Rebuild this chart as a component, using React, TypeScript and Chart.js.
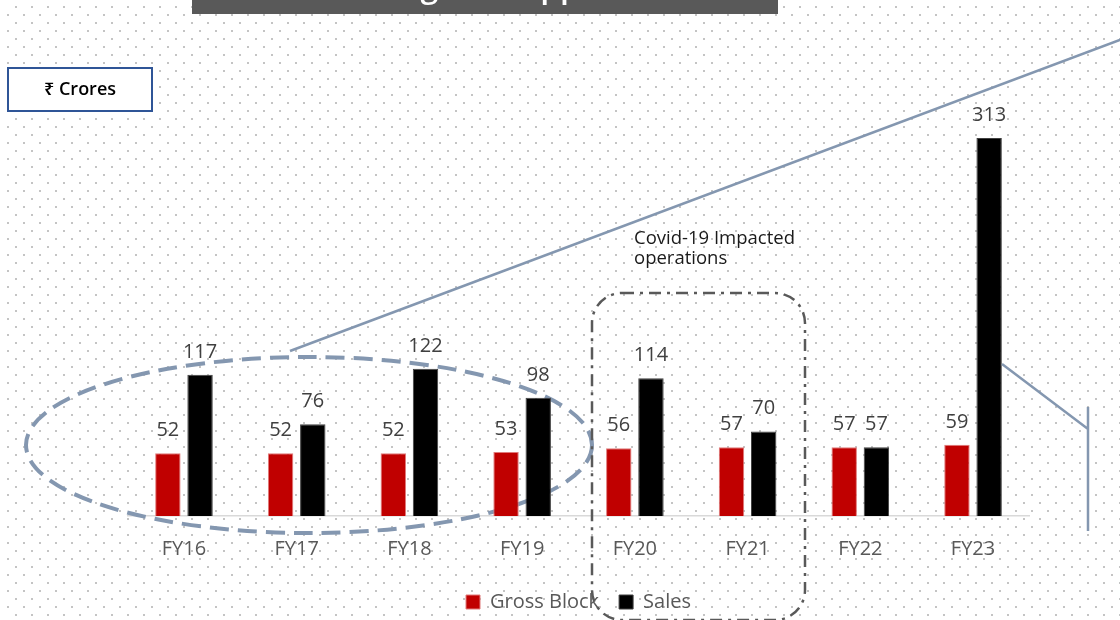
import React, { useEffect, useRef } from "react";
import { Chart, registerables } from "chart.js";

Chart.register(...registerables);

// ---------- data ----------
const categories = ["FY16", "FY17", "FY18", "FY19", "FY20", "FY21", "FY22", "FY23"];
const grossBlock = [52, 52, 52, 53, 56, 57, 57, 59];
const sales = [117, 76, 122, 98, 114, 70, 57, 313];
const seriesNames = ["Gross Block", "Sales"];
const unitLabel = "₹ Crores";
const covidNote = ["Covid-19 Impacted", "operations"];
const titleText = "Huge Untapped Market";

const FONT = '"Open Sans", "Noto Sans", "DejaVu Sans", sans-serif';
const ACCENT = "#8497B0";

function roundRectPath(ctx: CanvasRenderingContext2D, x: number, y: number, w: number, h: number, r: number) {
  ctx.beginPath();
  ctx.moveTo(x + r, y);
  ctx.lineTo(x + w - r, y);
  ctx.arcTo(x + w, y, x + w, y + r, r);
  ctx.lineTo(x + w, y + h - r);
  ctx.arcTo(x + w, y + h, x + w - r, y + h, r);
  ctx.lineTo(x + r, y + h);
  ctx.arcTo(x, y + h, x, y + h - r, r);
  ctx.lineTo(x, y + r);
  ctx.arcTo(x, y, x + r, y, r);
  ctx.closePath();
}

const decorPlugin = {
  id: "decor",
  beforeDraw(chart: any) {
    const ctx: CanvasRenderingContext2D = chart.ctx;
    const W = chart.width;
    const H = chart.height;
    ctx.save();
    ctx.fillStyle = "#ffffff";
    ctx.fillRect(0, 0, W, H);
    // dotted pattern background
    ctx.fillStyle = "#c4c4c4";
    let k = 0;
    for (let y = 6; y < H; y += 8, k++) {
      const x0 = k % 2 === 0 ? 15 : 7;
      for (let x = x0; x < W; x += 16) {
        ctx.fillRect(x, y, 2, 2);
      }
    }
    // top banner (title mostly cut off)
    ctx.fillStyle = "#595959";
    ctx.fillRect(192, 0, 586, 14);
    ctx.save();
    ctx.beginPath();
    ctx.rect(192, 0, 586, 14);
    ctx.clip();
    ctx.fillStyle = "#ffffff";
    ctx.font = `600 32px ${FONT}`;
    ctx.textAlign = "left";
    ctx.textBaseline = "alphabetic";
    ctx.fillText(titleText, 376, -3);
    ctx.restore();
    ctx.restore();
  },
  beforeDatasetsDraw(chart: any) {
    const ctx: CanvasRenderingContext2D = chart.ctx;
    ctx.save();
    // dashed ellipse around FY16-FY19
    ctx.strokeStyle = ACCENT;
    ctx.lineWidth = 4;
    ctx.setLineDash([19, 9]);
    ctx.beginPath();
    ctx.ellipse(309, 445, 283, 88, 0, 0, Math.PI * 2);
    ctx.stroke();
    // long diagonal line
    ctx.setLineDash([]);
    ctx.lineWidth = 2.5;
    ctx.beginPath();
    ctx.moveTo(290, 351);
    ctx.lineTo(1125, 38);
    ctx.stroke();
    ctx.restore();
  },
  afterDatasetsDraw(chart: any) {
    const ctx: CanvasRenderingContext2D = chart.ctx;
    ctx.save();
    ctx.fillStyle = "#404040";
    ctx.font = `20px ${FONT}`;
    ctx.textAlign = "center";
    ctx.textBaseline = "alphabetic";
    chart.data.datasets.forEach((ds: any, i: number) => {
      const meta = chart.getDatasetMeta(i);
      meta.data.forEach((el: any, j: number) => {
        ctx.fillText(String(ds.data[j]), el.x, el.y - 17);
      });
    });
    ctx.restore();
  },
  afterDraw(chart: any) {
    const ctx: CanvasRenderingContext2D = chart.ctx;
    ctx.save();
    // Covid dash-dot box
    ctx.strokeStyle = "#595959";
    ctx.lineWidth = 2.5;
    ctx.setLineDash([12, 6, 3, 6]);
    roundRectPath(ctx, 592, 293, 213, 327, 30);
    ctx.stroke();
    ctx.setLineDash([]);

    // Covid note text
    ctx.fillStyle = "#1a1a1a";
    ctx.font = `18.5px ${FONT}`;
    ctx.textAlign = "left";
    ctx.textBaseline = "alphabetic";
    ctx.fillText(covidNote[0], 634, 244);
    ctx.fillText(covidNote[1], 634, 264);

    // FY23 connector lines
    ctx.strokeStyle = ACCENT;
    ctx.lineWidth = 2.5;
    ctx.beginPath();
    ctx.moveTo(1002, 364);
    ctx.lineTo(1088, 429);
    ctx.moveTo(1088, 407);
    ctx.lineTo(1088, 531);
    ctx.stroke();

    // unit box
    ctx.fillStyle = "#ffffff";
    ctx.fillRect(8, 68, 144, 43);
    ctx.strokeStyle = "#2F5597";
    ctx.lineWidth = 2;
    ctx.strokeRect(8, 68, 144, 43);
    ctx.fillStyle = "#000000";
    ctx.font = `600 18px ${FONT}`;
    ctx.textAlign = "center";
    ctx.textBaseline = "middle";
    ctx.fillText(unitLabel, 80, 90);
    ctx.restore();
  },
};

export default function App() {
  const ref = useRef<HTMLCanvasElement | null>(null);

  useEffect(() => {
    if (!ref.current) return;
    const chart = new Chart(ref.current, {
      type: "bar",
      data: {
        labels: categories,
        datasets: [
          {
            label: seriesNames[0],
            data: grossBlock,
            backgroundColor: "#C00000",
            borderColor: "#E07A7A",
            borderWidth: 1,
            barPercentage: 0.79,
            categoryPercentage: 0.571,
          },
          {
            label: seriesNames[1],
            data: sales,
            backgroundColor: "#000000",
            borderColor: "#404040",
            borderWidth: 1,
            barPercentage: 0.79,
            categoryPercentage: 0.571,
          },
        ],
      },
      options: {
        responsive: false,
        devicePixelRatio: 1,
        animation: false,
        events: [],
        layout: { padding: { left: 127.6, right: 90.6, top: 93.3, bottom: -2 } },
        scales: {
          x: {
            grid: { display: false, drawTicks: false },
            border: { display: true, color: "#d9d9d9", width: 1.5 },
            ticks: {
              color: "#595959",
              font: { family: FONT, size: 20 },
              padding: 21,
              maxRotation: 0,
              autoSkip: false,
            },
            afterFit: (scale: any) => {
              scale.height = 56;
            },
          },
          y: { display: false, min: 0, max: 350 },
        },
        plugins: {
          tooltip: { enabled: false },
          title: { display: false },
          legend: {
            display: true,
            position: "bottom",
            labels: {
              boxWidth: 14,
              boxHeight: 14,
              padding: 20,
              color: "#595959",
              font: { family: FONT, size: 20 },
            },
          },
        },
      },
      plugins: [decorPlugin],
    });
    return () => chart.destroy();
  }, []);

  return (
    <div style={{ position: "fixed", left: 0, top: 0, width: 1120, height: 620, overflow: "hidden" }}>
      <canvas ref={ref} width={1120} height={620} style={{ width: 1120, height: 620, display: "block" }} />
    </div>
  );
}
